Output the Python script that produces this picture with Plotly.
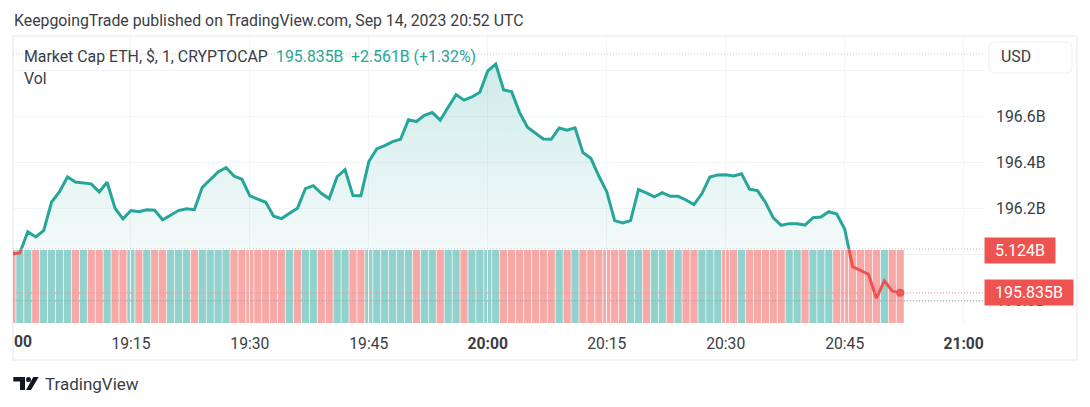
"""TradingView style ETH market cap snapshot."""

import pandas as pd
import plotly.graph_objects as go

PRICE = [
    196.004, 196.009, 196.101, 196.078, 196.106, 196.230, 196.275, 196.339, 196.317, 196.314,
    196.309, 196.274, 196.316, 196.203, 196.157, 196.193, 196.188, 196.196, 196.194, 196.153,
    196.174, 196.193, 196.201, 196.197, 196.294, 196.326, 196.361, 196.380, 196.343, 196.329,
    196.257, 196.243, 196.229, 196.168, 196.158, 196.181, 196.203, 196.288, 196.301, 196.268,
    196.245, 196.340, 196.371, 196.258, 196.257, 196.406, 196.461, 196.475, 196.493, 196.503,
    196.588, 196.580, 196.607, 196.619, 196.586, 196.642, 196.697, 196.673, 196.687, 196.707,
    196.800, 196.830, 196.717, 196.710, 196.620, 196.555, 196.529, 196.504, 196.503, 196.552,
    196.542, 196.553, 196.445, 196.420, 196.343, 196.275, 196.149, 196.139, 196.149, 196.284,
    196.270, 196.253, 196.271, 196.255, 196.255, 196.239, 196.219, 196.267, 196.339, 196.348,
    196.349, 196.343, 196.353, 196.286, 196.280, 196.229, 196.161, 196.129, 196.136, 196.136,
    196.130, 196.162, 196.165, 196.188, 196.178, 196.113, 195.949, 195.932, 195.916, 195.812,
    195.887, 195.842, 195.835,
]
VOLUME = [
    5.124, 5.124, 5.124, 5.124, 5.124, 5.124, 5.124, 5.124, 5.124, 5.124,
    5.124, 5.124, 5.124, 5.124, 5.124, 5.124, 5.124, 5.124, 5.124, 5.124,
    5.124, 5.124, 5.124, 5.124, 5.124, 5.124, 5.124, 5.124, 5.124, 5.124,
    5.124, 5.124, 5.124, 5.124, 5.124, 5.124, 5.124, 5.124, 5.124, 5.124,
    5.124, 5.124, 5.124, 5.124, 5.124, 5.124, 5.124, 5.124, 5.124, 5.124,
    5.124, 5.124, 5.124, 5.124, 5.124, 5.124, 5.124, 5.124, 5.124, 5.124,
    5.124, 5.124, 5.124, 5.124, 5.124, 5.124, 5.124, 5.124, 5.124, 5.124,
    5.124, 5.124, 5.124, 5.124, 5.124, 5.124, 5.124, 5.124, 5.124, 5.124,
    5.124, 5.124, 5.124, 5.124, 5.124, 5.124, 5.124, 5.124, 5.124, 5.124,
    5.124, 5.124, 5.124, 5.124, 5.124, 5.124, 5.124, 5.124, 5.124, 5.124,
    5.124, 5.124, 5.124, 5.124, 5.124, 5.124, 5.124, 5.124, 5.124, 5.124,
    5.124, 5.124, 5.124,
]
BAR_SIDE = (
    "RGGRGGGGRG" "RRGRRGRGRR" "GGGRGGGGRR" "RRRRRGRGGR" "RGGRRGGGGG" "GRGGRGGRGG"
    "GGRRRRRRRG" "RGRRRRRRGG" "RGGRGRRGGG" "RRGRRRRRGG" "RGGGRRRRRR" "GRR"
)
TIME_TICKS = ["19:15", "19:30", "19:45", "20:00", "20:15", "20:30", "20:45", "21:00"]
TIME_LABELS = ["19:15", "19:30", "19:45", "<b>20:00</b>", "20:15", "20:30", "20:45", "<b>21:00</b>"]
PRICE_TICKS = [195.8, 196.0, 196.2, 196.4, 196.6, 196.8]
# 196.0B and 196.8B sit behind the tag and the USD button in the original
PRICE_LABELS = ["195.8B", "", "196.2B", "196.4B", "196.6B", ""]

BASE_PRICE = 196.024
LAST_PRICE = 195.835
LAST_VOLUME = 5.124
HIGH_LINE = 196.874
LOW_LINE = 195.8

GREEN = "#26a69a"
RED = "#ef5350"
BAR_COLORS = {"G": "rgba(38,166,154,0.5)", "R": "rgba(239,83,80,0.5)"}
TEXT = "#3a3d45"
GRID = "#f3f4f7"
FONT = "Roboto"

# pane corners in page pixels
LEFT, RIGHT, TOP, BOTTOM = 13, 984, 36, 323
Y_MIN, Y_MAX = 195.704, 196.952
BASE_FRAC = (BASE_PRICE - Y_MIN) / (Y_MAX - Y_MIN)


def paper_x(px):
    return (px - LEFT) / (RIGHT - LEFT)


def paper_y(py):
    return (BOTTOM - py) / (BOTTOM - TOP)


def path(points):
    """Turn page pixel commands into a paper coordinate SVG path."""
    parts = []
    for cmd, *xy in points:
        coords = []
        for i in range(0, len(xy), 2):
            coords.append(f"{paper_x(xy[i]):.5f},{paper_y(xy[i + 1]):.5f}")
        parts.append(cmd + " ".join(coords))
    return " ".join(parts) + " Z"


def label(text, x, y, size=15.85, color=TEXT, anchor="left"):
    return dict(
        text=text, xref="paper", yref="paper", x=paper_x(x), y=paper_y(y),
        xanchor=anchor, yanchor="middle", showarrow=False,
        font=dict(family=FONT, size=size, color=color),
    )


def price_tag(text, value, width, yref, yshift=0):
    return dict(
        text=text, xref="paper", yref=yref, x=0, y=value, xanchor="left", yanchor="middle",
        xshift=RIGHT - LEFT, yshift=yshift, showarrow=False, width=width, height=23, bgcolor=RED,
        align="center", font=dict(family=FONT, size=16, color="white"),
    )


times = pd.date_range("2023-09-14 19:00", periods=len(PRICE), freq="min")
tick_times = [f"2023-09-14 {t}" for t in TIME_TICKS]

fig = go.Figure()

# volume bars, pinned to the bottom of the pane
fig.add_trace(go.Bar(
    x=times, y=VOLUME, yaxis="y", showlegend=False, hoverinfo="skip",
    marker=dict(color=[BAR_COLORS[s] for s in BAR_SIDE], line_width=0),
))
# same line twice, each clipped to its side of the baseline by the axis domain
fig.add_trace(go.Scatter(
    x=times, y=PRICE, yaxis="y3", mode="lines", showlegend=False, hoverinfo="skip",
    line=dict(color=GREEN, width=3), fill="tozeroy",
    fillgradient=dict(
        type="vertical", start=max(PRICE), stop=BASE_PRICE,
        colorscale=[[0, "rgba(38,166,154,0.22)"], [1, "rgba(38,166,154,0.05)"]],
    ),
))
fig.add_trace(go.Scatter(
    x=times, y=PRICE, yaxis="y4", mode="lines", showlegend=False, hoverinfo="skip",
    line=dict(color=RED, width=3),
))
# full range price axis carries grid, tick labels and the last point
fig.add_trace(go.Scatter(
    x=times[-1:], y=PRICE[-1:], yaxis="y2", mode="markers", showlegend=False, hoverinfo="skip",
    marker=dict(color=RED, size=8),
))

usd_box = path([
    ("M", 995, 42), ("L", 1066, 42), ("Q", 1072, 42, 1072, 48), ("L", 1072, 67),
    ("Q", 1072, 73, 1066, 73), ("L", 995, 73), ("Q", 989, 73, 989, 67), ("L", 989, 48),
    ("Q", 989, 42, 995, 42),
])
logo = [
    path([("M", 13.3, 377), ("L", 25, 377), ("L", 25, 390), ("L", 20, 390), ("L", 20, 381.5), ("L", 13.3, 381.5)]),
    path([("M", 33.3, 377), ("L", 38.7, 377), ("L", 31, 390), ("L", 26, 390)]),
]

fig.update_layout(
    width=1090,
    height=407,
    margin=dict(l=LEFT, r=1090 - RIGHT, t=TOP, b=407 - BOTTOM),
    paper_bgcolor="white",
    # transparent: the clipped price subplots would paint over the bars otherwise
    plot_bgcolor="rgba(0,0,0,0)",
    bargap=0.09,
    font=dict(family=FONT, size=15.5, color=TEXT),
    xaxis=dict(
        range=["2023-09-14 19:00:08", "2023-09-14 21:02:34"],
        tickmode="array", tickvals=tick_times, ticktext=TIME_LABELS,
        showgrid=True, gridcolor=GRID, gridwidth=1, zeroline=False, showline=False, ticks="",
        ticklabelstandoff=9, tickfont=dict(family=FONT, size=15.7, color=TEXT),
    ),
    yaxis=dict(range=[0, 20.15], visible=False, fixedrange=True),
    yaxis2=dict(
        range=[Y_MIN, Y_MAX], overlaying="y", side="right", anchor="x",
        tickmode="array", tickvals=PRICE_TICKS, ticktext=PRICE_LABELS,
        showgrid=True, gridcolor=GRID, gridwidth=1, zeroline=False, ticks="",
        ticklabelstandoff=11, tickfont=dict(family=FONT, size=15.8, color=TEXT),
    ),
    yaxis3=dict(domain=[BASE_FRAC, 1], range=[BASE_PRICE, Y_MAX], visible=False, anchor="x"),
    yaxis4=dict(domain=[0, BASE_FRAC], range=[Y_MIN, BASE_PRICE], visible=False, anchor="x"),
    shapes=[
        # pane frame
        dict(type="rect", xref="paper", yref="paper", x0=0, x1=paper_x(1077), y0=paper_y(36), y1=paper_y(360),
             line=dict(color="#eef0f6", width=1.5), layer="below"),
        # reference lines
        dict(type="line", xref="paper", yref="y2", x0=0, x1=1, y0=HIGH_LINE, y1=HIGH_LINE,
             line=dict(color="#c4c6cc", width=1, dash="1px,2px")),
        dict(type="line", xref="paper", yref="y2", x0=0, x1=1, y0=LOW_LINE, y1=LOW_LINE,
             line=dict(color="#9a9da5", width=1, dash="1px,2px")),
        dict(type="line", xref="paper", yref="y2", x0=0, x1=1, y0=LAST_PRICE, y1=LAST_PRICE,
             line=dict(color="#f28b89", width=1, dash="1px,2px")),
        dict(type="line", xref="paper", yref="y", x0=0, x1=1, y0=LAST_VOLUME + 0.08, y1=LAST_VOLUME + 0.08,
             line=dict(color="#c4c6cc", width=1, dash="1px,2px")),
        # currency button
        dict(type="path", xref="paper", yref="paper", path=usd_box, fillcolor="white",
             line=dict(color="#eef0f6", width=1.2)),
        # logo
        dict(type="path", xref="paper", yref="paper", path=logo[0], fillcolor="#131722", line_width=0),
        dict(type="path", xref="paper", yref="paper", path=logo[1], fillcolor="#131722", line_width=0),
        dict(type="circle", xref="paper", yref="paper", x0=paper_x(26), x1=paper_x(31),
             y0=paper_y(377), y1=paper_y(382), fillcolor="#131722", line_width=0),
    ],
    annotations=[
        label("KeepgoingTrade published on TradingView.com, Sep 14, 2023 20:52 UTC", 11.5, 20),
        label("Market Cap ETH, $, 1, CRYPTOCAP", 21.5, 56),
        label("195.835B", 274, 56, color=GREEN),
        label("+2.561B (+1.32%)", 349, 56, color=GREEN),
        label("Vol", 21.5, 78),
        label("<b>00</b>", 12, 342, size=15.7),
        label("USD", 999, 57),
        label("TradingView", 42.5, 384, size=17),
        price_tag("5.124B", LAST_VOLUME + 0.08, 68, "y", yshift=-2),
        price_tag("195.835B", LAST_PRICE, 86, "y2"),
    ],
)

fig.write_html("out.html", post_script="document.body.style.margin='0';", config={"displayModeBar": False})
